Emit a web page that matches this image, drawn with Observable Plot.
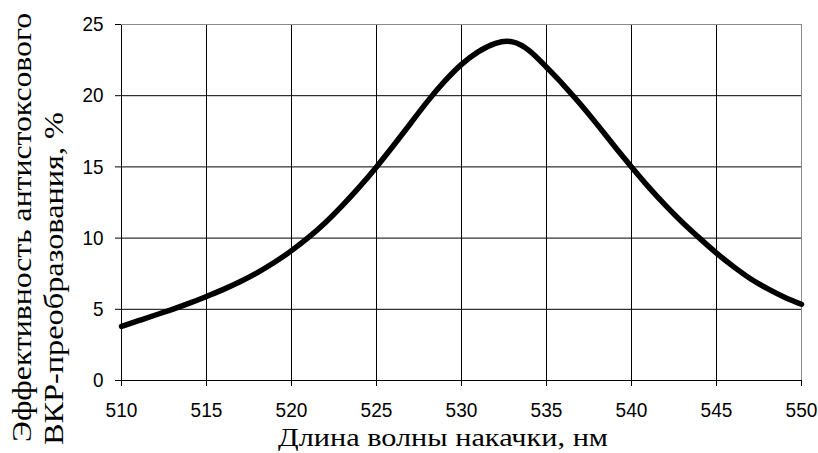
<!DOCTYPE html>
<html>
<head>
<meta charset="utf-8">
<script src="https://cdn.jsdelivr.net/npm/d3@7"></script>
<script src="https://cdn.jsdelivr.net/npm/@observablehq/plot@0.6"></script>
<style>
  body { margin: 0; background: #fff; }
</style>
</head>
<body>
<div id="chart"></div>
<script>
// Pump wavelength, nm
const wavelength = [510, 511, 512, 513, 514, 515, 516, 517, 518, 519,
                    520, 521, 522, 523, 524, 525, 526, 527, 528, 529,
                    530, 531, 532, 533, 534, 535, 536, 537, 538, 539,
                    540, 541, 542, 543, 544, 545, 546, 547, 548, 549, 550];
// Anti-Stokes SRS conversion efficiency, %
const efficiency = [3.8, 4.2, 4.6, 5.0, 5.43, 5.9, 6.4, 6.95, 7.58, 8.3,
                    9.12, 10.05, 11.1, 12.3, 13.6, 15.0, 16.5, 18.05, 19.6, 21.0,
                    22.2, 23.1, 23.68, 23.78, 23.15, 22.0, 20.75, 19.4, 17.95, 16.45,
                    15.0, 13.6, 12.3, 11.1, 10.0, 8.95, 8.0, 7.15, 6.45, 5.85, 5.35];

const xTicks = [510, 515, 520, 525, 530, 535, 540, 545, 550];
const yTicks = [0, 5, 10, 15, 20, 25];

const xTitle = "Длина волны накачки, нм";
const yTitle1 = "Эффективность антистоксового";
const yTitle2 = "ВКР-преобразования, %";

const data = wavelength.map((w, i) => ({w, e: efficiency[i]}));

const chart = Plot.plot({
  width: 818,
  height: 453,
  marginLeft: 121,
  marginRight: 17,
  marginTop: 24,
  marginBottom: 73,
  style: {
    background: "#fff",
    color: "#000",
    fontFamily: "'Liberation Sans', Arial, sans-serif",
    fontSize: "21px"
  },
  x: {domain: [510, 550]},
  y: {domain: [0, 25]},
  marks: [
    // grid: inner lines black, outer top/right border grey
    Plot.ruleX(xTicks.filter(t => t !== 550), {stroke: "#000", strokeWidth: 1}),
    Plot.ruleX([550], {stroke: "#8a8a8a", strokeWidth: 1}),
    Plot.ruleY(yTicks.filter(t => t !== 25), {stroke: "#000", strokeWidth: 1}),
    Plot.ruleY([25], {stroke: "#8a8a8a", strokeWidth: 1}),
    Plot.axisX({ticks: xTicks, tickSize: 6, tickPadding: 16, label: null, fontSize: 20}),
    Plot.axisY({ticks: yTicks, tickSize: 6, tickPadding: 12, label: null, fontSize: 21}),
    Plot.line(data, {x: "w", y: "e", stroke: "#000", strokeWidth: 5.5, curve: "natural"})
  ]
});

document.getElementById("chart").appendChild(chart);

const svg = d3.select(chart);

// narrow the tick digits a little
svg.selectAll('[aria-label="x-axis tick label"] text')
  .attr("textLength", function () { return this.textContent.length * 10.6; })
  .attr("lengthAdjust", "spacingAndGlyphs");
svg.selectAll('[aria-label="y-axis tick label"] text')
  .attr("textLength", function () { return this.textContent.length * 10.5; })
  .attr("lengthAdjust", "spacingAndGlyphs");

const serif = "'Liberation Serif', 'Times New Roman', serif";

svg.append("text")
  .attr("x", 278)
  .attr("y", 446)
  .attr("font-family", serif)
  .attr("font-size", 26)
  .attr("fill", "#000")
  .attr("text-anchor", "start")
  .attr("textLength", 330)
  .attr("lengthAdjust", "spacingAndGlyphs")
  .text(xTitle);

svg.append("text")
  .attr("transform", "translate(31,442) rotate(-90)")
  .attr("font-family", serif)
  .attr("font-size", 27)
  .attr("fill", "#000")
  .attr("text-anchor", "start")
  .attr("textLength", 429)
  .attr("lengthAdjust", "spacingAndGlyphs")
  .text(yTitle1);

svg.append("text")
  .attr("transform", "translate(63,445) rotate(-90)")
  .attr("font-family", serif)
  .attr("font-size", 27)
  .attr("fill", "#000")
  .attr("text-anchor", "start")
  .attr("textLength", 333)
  .attr("lengthAdjust", "spacingAndGlyphs")
  .text(yTitle2);
</script>
</body>
</html>
